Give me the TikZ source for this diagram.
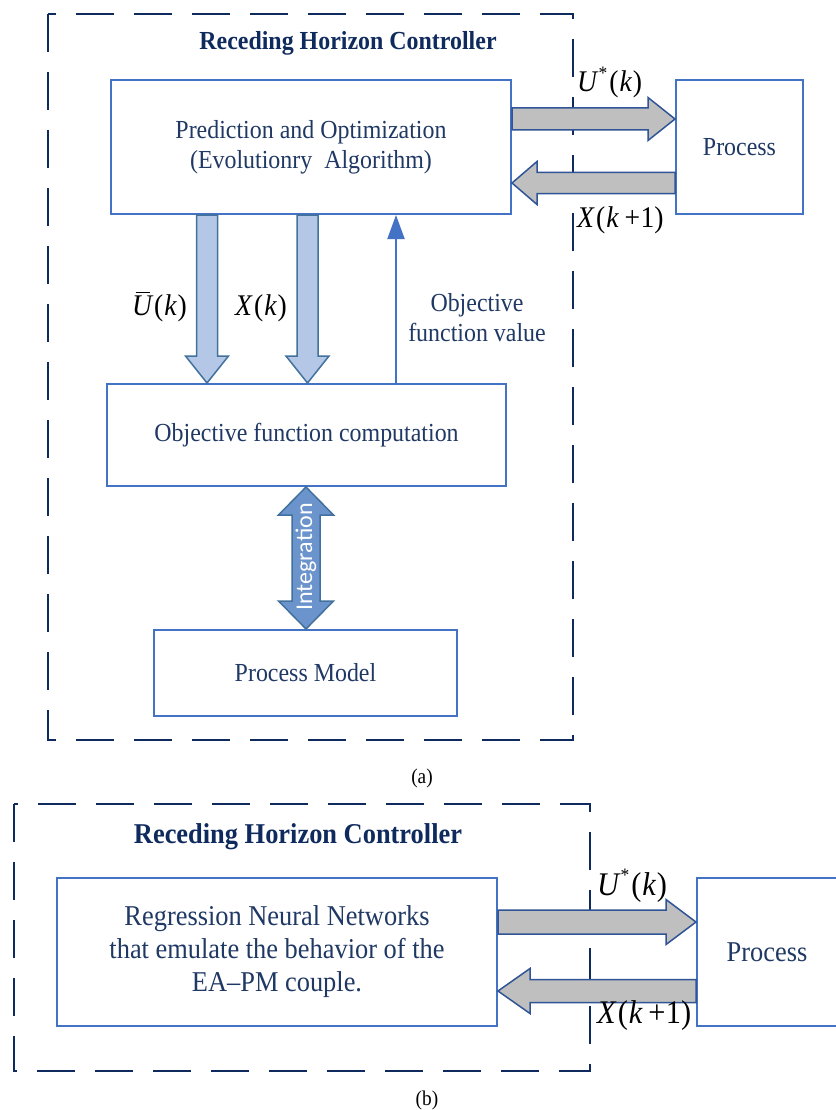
\documentclass[tikz,border=0pt]{standalone}
\usepackage{fontspec}
\setmainfont{Liberation Serif}[FakeStretch=0.92]
\newfontfamily\calib{Carlito}
\usetikzlibrary{arrows.meta,calc}
\definecolor{navy}{HTML}{0F2B5E}
\definecolor{txt}{HTML}{1F3864}
\definecolor{bord}{HTML}{4472C4}
\definecolor{arrbord}{HTML}{2F5597}
\definecolor{grayfill}{HTML}{BFBFBF}
\definecolor{ltblue}{HTML}{B4C7E7}
\definecolor{midblue}{HTML}{6B93CC}
\definecolor{midbord}{HTML}{41719C}
\newcommand\fs[1]{\fontsize{#1}{1.15\dimexpr#1pt\relax}\selectfont}
% horizontal/vertical single block arrow: style, from, to, shaft half, head half, head length
\newcommand\harrow[6]{\draw[#1] let \p1=(#2), \p2=(#3), \n1={ifthenelse(\x2>\x1,1,-1)} in
 (\x1,\y1+#4) -- (\x2-\n1*#6,\y1+#4) -- (\x2-\n1*#6,\y1+#5) -- (\x2,\y1) -- (\x2-\n1*#6,\y1-#5) -- (\x2-\n1*#6,\y1-#4) -- (\x1,\y1-#4) -- cycle;}
\newcommand\varrow[6]{\draw[#1] let \p1=(#2), \p2=(#3), \n1={ifthenelse(\y2>\y1,1,-1)} in
 (\x1+#4,\y1) -- (\x1+#4,\y2-\n1*#6) -- (\x1+#5,\y2-\n1*#6) -- (\x1,\y2) -- (\x1-#5,\y2-\n1*#6) -- (\x1-#4,\y2-\n1*#6) -- (\x1-#4,\y1) -- cycle;}
\newcommand\vdarrow[6]{\draw[#1] let \p1=(#2), \p2=(#3), \n1={ifthenelse(\y2>\y1,1,-1)} in
 (\x1,\y1) -- (\x1+#5,\y1+\n1*#6) -- (\x1+#4,\y1+\n1*#6) -- (\x1+#4,\y2-\n1*#6) -- (\x1+#5,\y2-\n1*#6) -- (\x1,\y2) -- (\x1-#5,\y2-\n1*#6) -- (\x1-#4,\y2-\n1*#6) -- (\x1-#4,\y1+\n1*#6) -- (\x1-#5,\y1+\n1*#6) -- cycle;}
\newcommand\Ust{{\itshape U}\kern1.5pt\raisebox{0.42em}{\fs{19}*}\kern2pt(\kern1pt{\itshape k}\kern1pt)}
\newcommand\Xkp{{\itshape X}\kern2pt(\kern1pt{\itshape k}\kern6pt+\kern0.5pt1)}
\newcommand\Ubk{\makebox[0pt][l]{\kern3.5pt\rule[22pt]{14pt}{1.2pt}}{\itshape U}\kern2pt(\kern1pt{\itshape k}\kern1pt)}
\newcommand\Xk{{\itshape X}\kern2pt(\kern1pt{\itshape k}\kern1pt)}
\begin{document}
\begin{tikzpicture}[x=1pt,y=-1pt,
  box/.style={draw=bord, line width=2pt, fill=white, inner sep=0pt, align=center, text=txt, font=\fs{26}},
  bbox/.style={box, font=\fs{28.7}},
  dashbox/.style={draw=navy, line width=2.5pt, dash pattern=on 38pt off 20pt},
  grayarrow/.style={draw=arrbord, line width=1.5pt, fill=grayfill, line join=miter},
  bluearrow/.style={draw=midbord, line width=1.5pt, fill=ltblue, line join=miter},
  intarrow/.style={draw=midbord, line width=1.5pt, fill=midblue, line join=miter},
  titletext/.style={font=\bfseries\fs{26}, text=navy, inner sep=0pt},
  lbl/.style={font=\fs{30}, text=black, inner sep=0pt, anchor=base west},
  notetext/.style={font=\fs{26}, text=txt, align=center, inner sep=0pt},
  captext/.style={font=\fs{21}, text=black, inner sep=0pt}]
\useasboundingbox (0,0) rectangle (835,1110);
\fill[white] (0,0) rectangle (835,1110);
% ---------- (a) ----------
\draw[dashbox] (48,14) rectangle (573,740);
\node[titletext] (t1) at (348,43) {Receding Horizon Controller};
\node[box, minimum width=400pt, minimum height=134pt] (pred) at (311,147)
  {Prediction and Optimization\\[0pt](Evolutionry\ \ Algorithm)};
\node[box, minimum width=127pt, minimum height=134pt] (proc1) at (739.5,147) {Process};
\node[box, minimum width=399pt, minimum height=102pt] (obj) at (306.5,435) {Objective function computation};
\node[box, minimum width=303pt, minimum height=86pt] (pm) at (305.5,673) {Process Model};
% horizontal arrows
\coordinate (a1s) at ($(pred.east)+(0,-28)$);
\coordinate (a1e) at (proc1.west |- a1s);
\harrow{grayarrow}{a1s}{a1e}{11pt}{21.5pt}{27pt}
\coordinate (a2s) at ($(proc1.west)+(0,36)$);
\coordinate (a2e) at (pred.east |- a2s);
\harrow{grayarrow}{a2s}{a2e}{10.5pt}{21.5pt}{25pt}
% vertical arrows
\coordinate (d1s) at (pred.south -| 207,0);
\coordinate (d1e) at (obj.north -| 207,0);
\varrow{bluearrow}{d1s}{d1e}{10.5pt}{21.5pt}{27pt}
\coordinate (d2s) at (pred.south -| 307.5,0);
\coordinate (d2e) at (obj.north -| 307.5,0);
\varrow{bluearrow}{d2s}{d2e}{10.5pt}{21.5pt}{27pt}
\coordinate (u1s) at (obj.north -| 396,0);
\coordinate (u1e) at (pred.south -| 396,0);
\draw[bord, line width=2pt, -{Triangle[width=17pt,length=24pt]}] (u1s) -- (u1e);
\coordinate (i1s) at (obj.south -| 306,0);
\coordinate (i1e) at (pm.north -| 306,0);
\vdarrow{intarrow}{i1s}{i1e}{14pt}{27.5pt}{28pt}
\node[rotate=90, font=\calib\fs{24}, text=white, inner sep=0pt] (integ) at (306,557) {Integration};
% labels
\node[lbl] (lu1) at (577,92) {\Ust};
\node[lbl] (lx1) at (577,227) {\Xkp};
\node[lbl] (lub) at (132,315) {\Ubk};
\node[lbl] (lxk) at (235,315) {\Xk};
\node[notetext] (ofv) at (477,318) {Objective\\[0pt]function value};
\node[captext] (ca) at (422,778) {(a)};
% ---------- (b) ----------
\draw[dashbox] (14,804) rectangle (590,1071);
\node[titletext, font=\bfseries\fs{28.7}] (t2) at (298,837) {Receding Horizon Controller};
\node[bbox, minimum width=440pt, minimum height=148pt] (rnn) at (277,952)
  {Regression Neural Networks\\[0pt]that emulate the behavior of the\\[0pt]EA--PM couple.};
\node[bbox, minimum width=140pt, minimum height=148pt] (proc2) at (767,952) {Process};
\coordinate (b1s) at ($(rnn.east)+(0,-30)$);
\coordinate (b1e) at (proc2.west |- b1s);
\harrow{grayarrow}{b1s}{b1e}{12pt}{22.5pt}{30pt}
\coordinate (b2s) at ($(proc2.west)+(0,39)$);
\coordinate (b2e) at (rnn.east |- b2s);
\harrow{grayarrow}{b2s}{b2e}{11.5pt}{22.5pt}{32pt}
\node[lbl, font=\fs{33}] (lu2) at (597,895) {\Ust};
\node[lbl, font=\fs{33}] (lx2) at (597,1023) {\Xkp};
\node[captext] (cb) at (427,1100) {(b)};
\end{tikzpicture}
\end{document}
